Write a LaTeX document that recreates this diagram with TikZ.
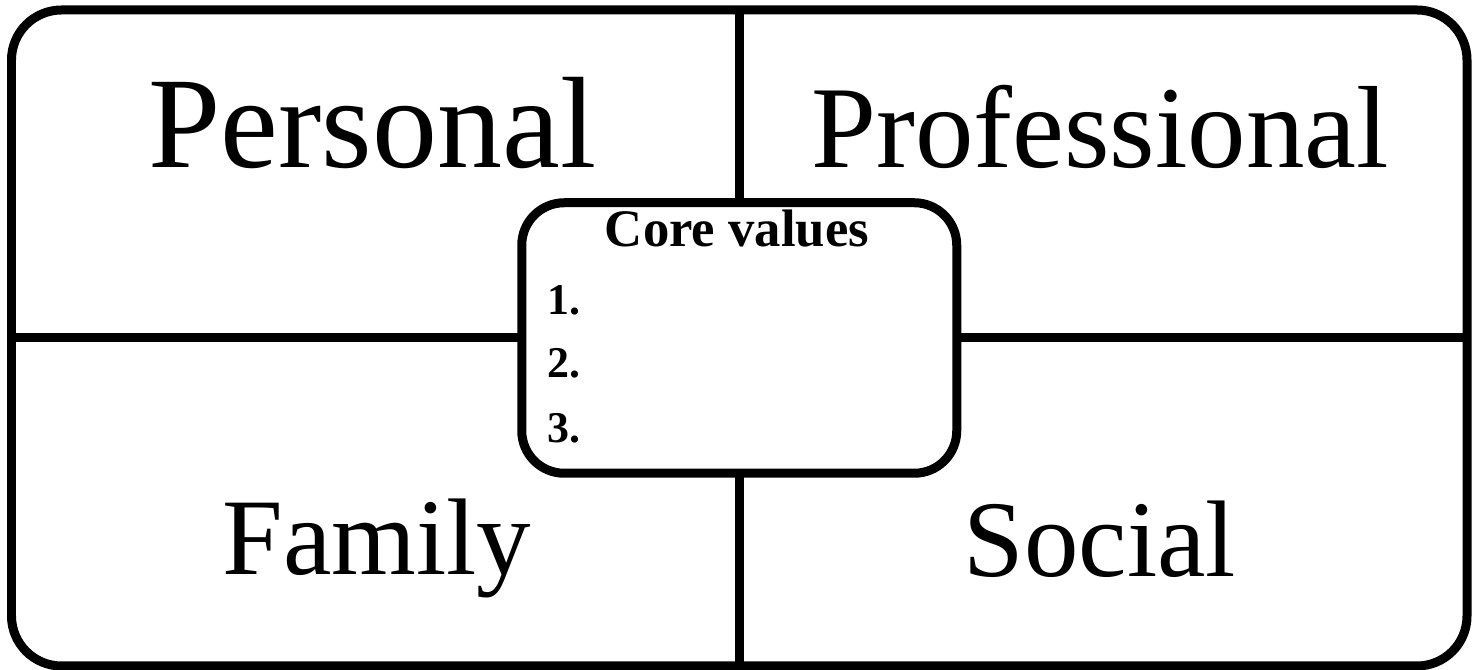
\documentclass[tikz,border=0pt]{standalone}
\usepackage{fontspec}
\setmainfont{Liberation Serif}
\usetikzlibrary{positioning}

\begin{document}
\begin{tikzpicture}[
  frame/.style={draw,line width=.18cm,rounded corners=1cm,outer sep=0pt,
    minimum width=29.11cm,minimum height=13.12cm,inner sep=0pt},
  corebox/.style={draw,line width=.18cm,rounded corners=.85cm,outer sep=0pt,
    minimum width=8.7cm,minimum height=5.41cm,inner sep=0pt,fill=white},
  divider/.style={line width=.18cm},
  quadlabel/.style={anchor=base,inner sep=0pt,
    font=\fontsize{#1}{#1}\selectfont},
  coretitle/.style={anchor=base,inner sep=0pt,
    font=\fontsize{30}{34}\selectfont\bfseries},
  coreitem/.style={anchor=base west,inner sep=0pt,
    font=\fontsize{25}{30}\selectfont\bfseries}
]
\useasboundingbox (0,0) rectangle (29.58,13.4);

% Outer frame and the central box.
\node[frame] (outer) at (14.785,6.64) {};
\node[corebox] (core) at (14.785,6.64) {};

% The four quadrants are split by lines meeting the central box.
\draw[divider] (outer.north) -- (core.north);
\draw[divider] (core.south) -- (outer.south);
\draw[divider] (outer.west) -- (core.west);
\draw[divider] (core.east) -- (outer.east);

% Quadrant labels.
\node[quadlabel=74] (personal) at (7.45,10.04) {Personal};
\node[quadlabel=66.5] (professional) at (22.0,10.04) {Professional};
\node[quadlabel=62] (family) at (7.54,1.90) {Family};
\node[quadlabel=62] (social) at (22.0,1.86) {Social};

% Contents of the central box.
\node[coretitle] (title) at (14.74,8.46) {Core values};
\node[coreitem] (item1) at (10.94,7.10) {1.};
\node[coreitem] (item2) at (10.94,5.84) {2.};
\node[coreitem] (item3) at (10.94,4.54) {3.};
\end{tikzpicture}
\end{document}
